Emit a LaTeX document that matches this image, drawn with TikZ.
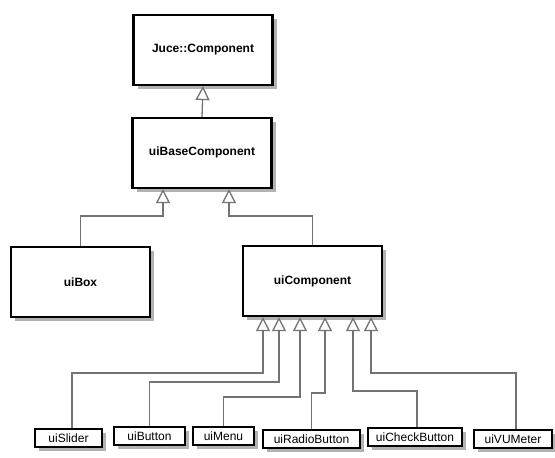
\documentclass[tikz,border=0pt]{standalone}
\usepackage{fontspec}
\setmainfont{Liberation Sans}
\usetikzlibrary{arrows.meta,shadows}

\tikzset{
  cls/.style={draw=black, line width=2.2pt, fill=white, inner sep=0pt,
    drop shadow={shadow xshift=4pt, shadow yshift=-4pt, fill=black!30, opacity=1}},
  bigcls/.style={cls, minimum width=139pt, minimum height=70pt,
    font=\bfseries\fontsize{12}{14}\selectfont},
  smallcls/.style={cls, line width=1.8pt, minimum height=18pt,
    font=\fontsize{12}{14}\selectfont},
  inh/.style={draw=black!55, line width=1.3pt,
    -{Triangle[open, width=14pt, length=14pt, line width=1.3pt]}}
}

\begin{document}
\begin{tikzpicture}[x=1pt,y=-1pt]
\useasboundingbox (0,0) rectangle (555,458);
\path (203,50) node[bigcls] (juce) {Juce::Component}
		(202,153) node[bigcls] (base) {\raisebox{3pt}{uiBaseComponent}}
		(80.5,282) node[bigcls] (box) {uiBox}
		(312.5,281) node[bigcls] (comp) {uiComponent}
		(68.5,438) node[smallcls, minimum width=67pt] (slider) {uiSlider}
		(149.5,436) node[smallcls, minimum width=71pt] (button) {uiButton}
		(223.5,436) node[smallcls, minimum width=61pt] (menu) {uiMenu}
		(311.5,439) node[smallcls, minimum width=97pt] (radio) {uiRadioButton}
		(415,437) node[smallcls, minimum width=94pt] (check) {uiCheckButton}
		(513,439) node[smallcls, minimum width=78pt] (vumeter) {uiVUMeter}
		;

\draw[inh]	(base.north) -- (juce.south);
\draw[inh]	(box.north) -- (box.north |- 0,216) -| ([xshift=-39pt]base.south);
\draw[inh]	(comp.north) -- (comp.north |- 0,216) -| ([xshift=27pt]base.south);
\draw[inh]	([xshift=3.5pt]slider.north) -- ([xshift=3.5pt]slider.north |- 0,373) -| ([xshift=-49.5pt]comp.south);
\draw[inh]	(button.north) -- (button.north |- 0,382) -| ([xshift=-33.5pt]comp.south);
\draw[inh]	(menu.north) -- (menu.north |- 0,397) -| ([xshift=-12.5pt]comp.south);
\draw[inh]	(radio.north) -- (radio.north |- 0,393) -| ([xshift=12.5pt]comp.south);
\draw[inh]	([xshift=2pt]check.north) -- ([xshift=2pt]check.north |- 0,391) -| ([xshift=40.5pt]comp.south);
\draw[inh]	([xshift=3pt]vumeter.north) -- ([xshift=3pt]vumeter.north |- 0,373) -| ([xshift=58.5pt]comp.south);
\end{tikzpicture}
\end{document}
